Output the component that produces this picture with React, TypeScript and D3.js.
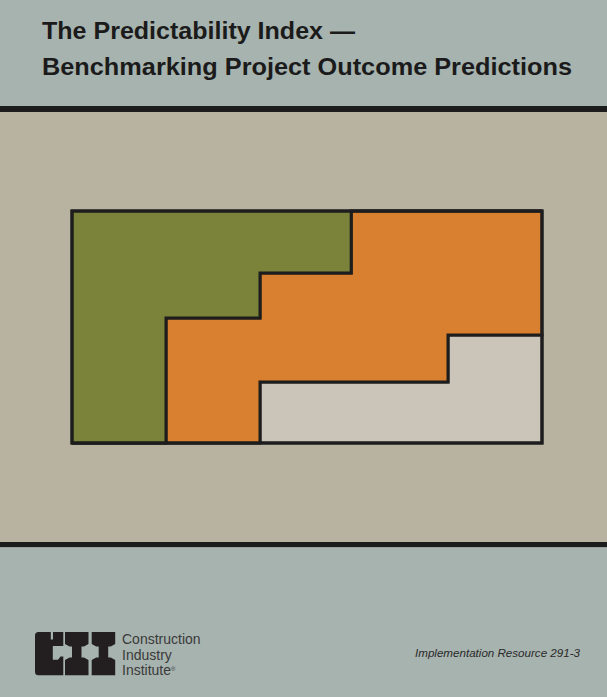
import React from "react";
import * as d3 from "d3";

// Column edges (percent of panel width) and stacked band tops (percent of panel height)
const columnEdges = [0, 20, 40, 59.4, 80, 100];
const grayTop = [0, 0, 26.3, 26.3, 46.6];
const orangeTop = [0, 53.9, 73.3, 100, 100];
const greenTop = [100, 100, 100, 100, 100];

const titleLines = ["The Predictability Index \u2014", "Benchmarking Project Outcome Predictions"];
const logoLines = ["Construction", "Industry", "Institute"];
const resourceLabel = "Implementation Resource 291-3";

const W = 607;
const H = 697;

export default function App() {
  const x = d3.scaleLinear().domain([0, 100]).range([72, 542]);
  const y = d3.scaleLinear().domain([0, 100]).range([443, 211]);

  const pts = (lo: number[], hi: number[]) => {
    const arr = lo.map((v, i) => ({ x: columnEdges[i], y0: v, y1: hi[i] }));
    arr.push({ x: columnEdges[columnEdges.length - 1], y0: lo[lo.length - 1], y1: hi[hi.length - 1] });
    return arr;
  };
  const area = d3
    .area<{ x: number; y0: number; y1: number }>()
    .x((d) => x(d.x))
    .y0((d) => y(d.y0))
    .y1((d) => y(d.y1))
    .curve(d3.curveStepAfter);

  const zeros = grayTop.map(() => 0);
  const bands = [
    { lo: zeros, hi: grayTop, fill: "#cbc5b9" },
    { lo: grayTop, hi: orangeTop, fill: "#d8802f" },
    { lo: orangeTop, hi: greenTop, fill: "#7a8339" },
  ];

  const iShape = (x0: number) =>
    `M${x0},632 H${x0 + 23.5} V644 L${x0 + 19},646.5 H${x0 + 16.5} V657.5 H${x0 + 19} L${x0 + 23.5},660 V675.3 H${x0} V660 L${x0 + 4.5},657.5 H${x0 + 7} V646.5 H${x0 + 4.5} L${x0},644 Z`;

  const cShape =
    "M38.5,632 H50.8 V639.5 H53 V632 H63.3 V646 H52.8 V659.7 H58 L60.5,656.5 H63.3 V675.3 H38.5 Q35,675.3 35,671.8 V635.5 Q35,632 38.5,632 Z";

  return (
    <svg
      width={W}
      height={H}
      viewBox={`0 0 ${W} ${H}`}
      style={{ position: "absolute", left: 0, top: 0, display: "block" }}
    >
      <rect x={0} y={0} width={W} height={106} fill="#a7b3af" />
      <rect x={0} y={106} width={W} height={6} fill="#1c1c1c" />
      <rect x={0} y={112} width={W} height={430} fill="#b8b2a1" />
      <rect x={0} y={542} width={W} height={5.5} fill="#1c1c1c" />
      <rect x={0} y={547.5} width={W} height={H - 547.5} fill="#a7b3af" />

      <g fontFamily="'Liberation Sans', Arial, sans-serif" fontWeight="bold" fontSize={23} fill="#1b1b1b">
        <text x={42} y={38.5} textLength={313} lengthAdjust="spacingAndGlyphs">
          {titleLines[0]}
        </text>
        <text x={42} y={75} textLength={530} lengthAdjust="spacingAndGlyphs">
          {titleLines[1]}
        </text>
      </g>

      {bands.map((b, i) => (
        <path
          key={i}
          d={area(pts(b.lo, b.hi)) || ""}
          fill={b.fill}
          stroke="#1d1d1d"
          strokeWidth={3}
          strokeLinejoin="miter"
        />
      ))}
      <rect
        x={x(0)}
        y={y(100)}
        width={x(100) - x(0)}
        height={y(0) - y(100)}
        fill="none"
        stroke="#1d1d1d"
        strokeWidth={3}
      />

      <g fill="#231f20">
        <path d={cShape} />
        <path d={iShape(65)} />
        <path d={iShape(91.7)} />
      </g>
      <g fontFamily="'Liberation Sans', Arial, sans-serif" fontSize={14} fill="#3a3a3a">
        {logoLines.map((t, i) => (
          <text key={t} x={122} y={644 + i * 15.6}>
            {t}
            {i === 2 ? (
              <tspan fontSize={6} dy={-4}>
                {"\u00AE"}
              </tspan>
            ) : null}
          </text>
        ))}
      </g>
      <text
        x={415}
        y={657.3}
        fontFamily="'Liberation Sans', Arial, sans-serif"
        fontStyle="italic"
        fontSize={10.5}
        fill="#2a2a2a"
        textLength={165}
        lengthAdjust="spacingAndGlyphs"
      >
        {resourceLabel}
      </text>
    </svg>
  );
}
